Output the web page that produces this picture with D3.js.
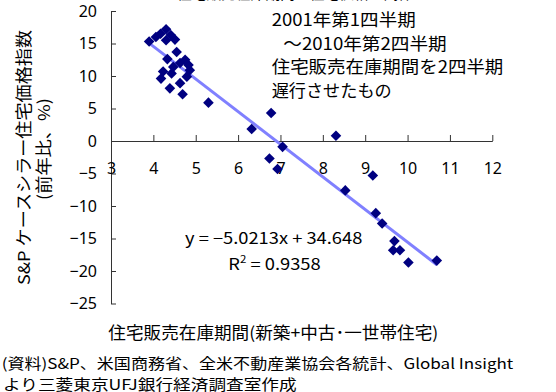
<!DOCTYPE html>
<html lang="ja">
<head>
<meta charset="utf-8">
<script src="https://cdn.jsdelivr.net/npm/d3@7"></script>
<style>
  html, body { margin: 0; padding: 0; background: #fff; }
  svg { display: block; font-family: "Noto Sans CJK JP", "Noto Sans", sans-serif; }
</style>
</head>
<body>
<svg id="chart" width="556" height="392"></svg>
<script>
// 住宅販売在庫期間（月、2四半期先行）
const inventoryMonths = [
  3.90, 4.30, 4.17, 4.06, 4.41, 4.30, 4.51, 4.55, 4.33, 4.75,
  4.83, 4.63, 4.86, 4.47, 4.23, 4.43, 4.79, 4.18, 4.63, 4.39,
  4.69, 5.30, 6.32, 6.78, 7.05, 6.74, 6.93, 8.31, 8.53, 9.18,
  9.25, 9.40, 9.69, 9.66, 9.82, 10.02, 10.69
];
// S&P ケースシラー住宅価格指数（前年比、%）
const priceYoY = [
  15.3, 17.2, 16.5, 16.0, 16.3, 15.5, 15.6, 13.7, 12.6, 12.5,
  11.7, 12.0, 10.9, 11.4, 10.7, 10.4, 9.9, 9.6, 8.9, 8.1,
  7.2, 5.9, 1.85, 4.3, -0.9, -2.7, -4.3, 0.8, -7.6, -5.3,
  -11.1, -12.7, -15.4, -16.8, -16.8, -18.7, -18.4
];
const xTickValues = [3, 4, 5, 6, 7, 8, 9, 10, 11, 12];
const yTickValues = [-25, -20, -15, -10, -5, 0, 5, 10, 15, 20];

// 回帰式
const slope = -5.0213;
const intercept = 34.648;
const rSquared = 0.9358;

const noteLines = [
  "2001年第1四半期",
  "～2010年第2四半期",
  "住宅販売在庫期間を2四半期",
  "遅行させたもの"
];
const titleText = "住宅販売在庫期間と住宅価格の関係";
const yTitle1 = "S&P ケースシラー住宅価格指数";
const yTitle2 = "(前年比、%)";
const xTitle = "住宅販売在庫期間(新築+中古･一世帯住宅)";
const source1 = "(資料)S&P、米国商務省、全米不動産業協会各統計、Global Insight";
const source2 = "より三菱東京UFJ銀行経済調査室作成";

const svg = d3.select("#chart");
svg.append("rect").attr("width", 556).attr("height", 392).attr("fill", "#fff");

const x = d3.scaleLinear().domain([3, 12]).range([111, 492.3]);
const y = d3.scaleLinear().domain([-25, 20]).range([303.5, 11]);

const axisColor = "#333";
const tickFont = 16;

// y axis (ticks pointing inward)
const yAxis = svg.append("g")
  .attr("transform", `translate(${x(3)},0)`)
  .call(d3.axisLeft(y).tickValues(yTickValues).tickSizeInner(-5).tickSizeOuter(0).tickPadding(14));

// x axis along y = 0, ticks pointing up
const xAxis = svg.append("g")
  .attr("transform", `translate(0,${y(0)})`)
  .call(d3.axisBottom(x).tickValues(xTickValues).tickSizeInner(-6).tickSizeOuter(0).tickPadding(22));

[yAxis, xAxis].forEach(g => {
  g.attr("font-family", null).attr("font-size", null);
  g.selectAll("path, line").attr("stroke", axisColor).attr("stroke-width", 1);
  g.selectAll("text").attr("fill", "#000").style("font-size", tickFont + "px")
    .style("font-family", "'Noto Sans', 'DejaVu Sans', sans-serif");
});

// trend line over the data range
const xMin = d3.min(inventoryMonths), xMax = d3.max(inventoryMonths);
svg.append("line")
  .attr("x1", x(xMin)).attr("y1", y(slope * xMin + intercept))
  .attr("x2", x(xMax)).attr("y2", y(slope * xMax + intercept))
  .attr("stroke", "#8080ff").attr("stroke-width", 3);

// data markers
const r = 5.3;
const diamond = `M0,${-r}L${r},0L0,${r}L${-r},0Z`;
svg.append("g").selectAll("path")
  .data(d3.zip(inventoryMonths, priceYoY))
  .join("path")
  .attr("d", diamond)
  .attr("transform", d => `translate(${x(d[0])},${y(d[1])})`)
  .attr("fill", "#000080");

// helper for text lines
function label(txt, px, py, size, width, anchor) {
  const t = svg.append("text")
    .attr("x", px).attr("y", py)
    .attr("font-size", size)
    .attr("fill", "#000")
    .attr("text-anchor", anchor || "start")
    .text(txt);
  if (width) t.attr("textLength", width).attr("lengthAdjust", "spacingAndGlyphs");
  return t;
}

// title (only its lower edge falls inside the frame)
label(titleText, 177, -1, 17, 236);

// note
const noteX = [271.7, 283.3, 271.7, 271.7];
const noteW = [144, 163.4, 231.6, 120];
const noteY = [26, 49.5, 73, 96.7];
noteLines.forEach((s, i) => label(s, noteX[i], noteY[i], 17, noteW[i]));

// regression equation
const eqText = `y = ${d3.format(".4f")(slope).replace("-", "−")}x + ${intercept}`;
label(eqText, 185, 243.5, 16, 177.3);
const rText = svg.append("text")
  .attr("x", 228.3).attr("y", 270).attr("font-size", 16).attr("fill", "#000")
  .attr("textLength", 92.4).attr("lengthAdjust", "spacingAndGlyphs");
rText.append("tspan").text("R");
rText.append("tspan").attr("dy", -7).attr("font-size", 10).text("2");
rText.append("tspan").attr("dy", 7).text(` = ${rSquared}`);

// y axis title (two rotated lines)
svg.append("text")
  .attr("transform", "translate(23,157.5) rotate(-90)")
  .attr("text-anchor", "middle").attr("dominant-baseline", "central")
  .attr("font-size", 16.5).attr("fill", "#000")
  .attr("textLength", 255).attr("lengthAdjust", "spacingAndGlyphs")
  .text(yTitle1);
svg.append("text")
  .attr("transform", "translate(42.5,149) rotate(-90)")
  .attr("text-anchor", "middle").attr("dominant-baseline", "central")
  .attr("font-size", 16.5).attr("fill", "#000")
  .attr("textLength", 102).attr("lengthAdjust", "spacingAndGlyphs")
  .text(yTitle2);

// x axis title and source
label(xTitle, 108.3, 339, 16.5, 330);
label(source1, 1.7, 368.5, 14.5, 511.6);
label(source2, 3, 389.5, 14.5, 293.7);
</script>
</body>
</html>
